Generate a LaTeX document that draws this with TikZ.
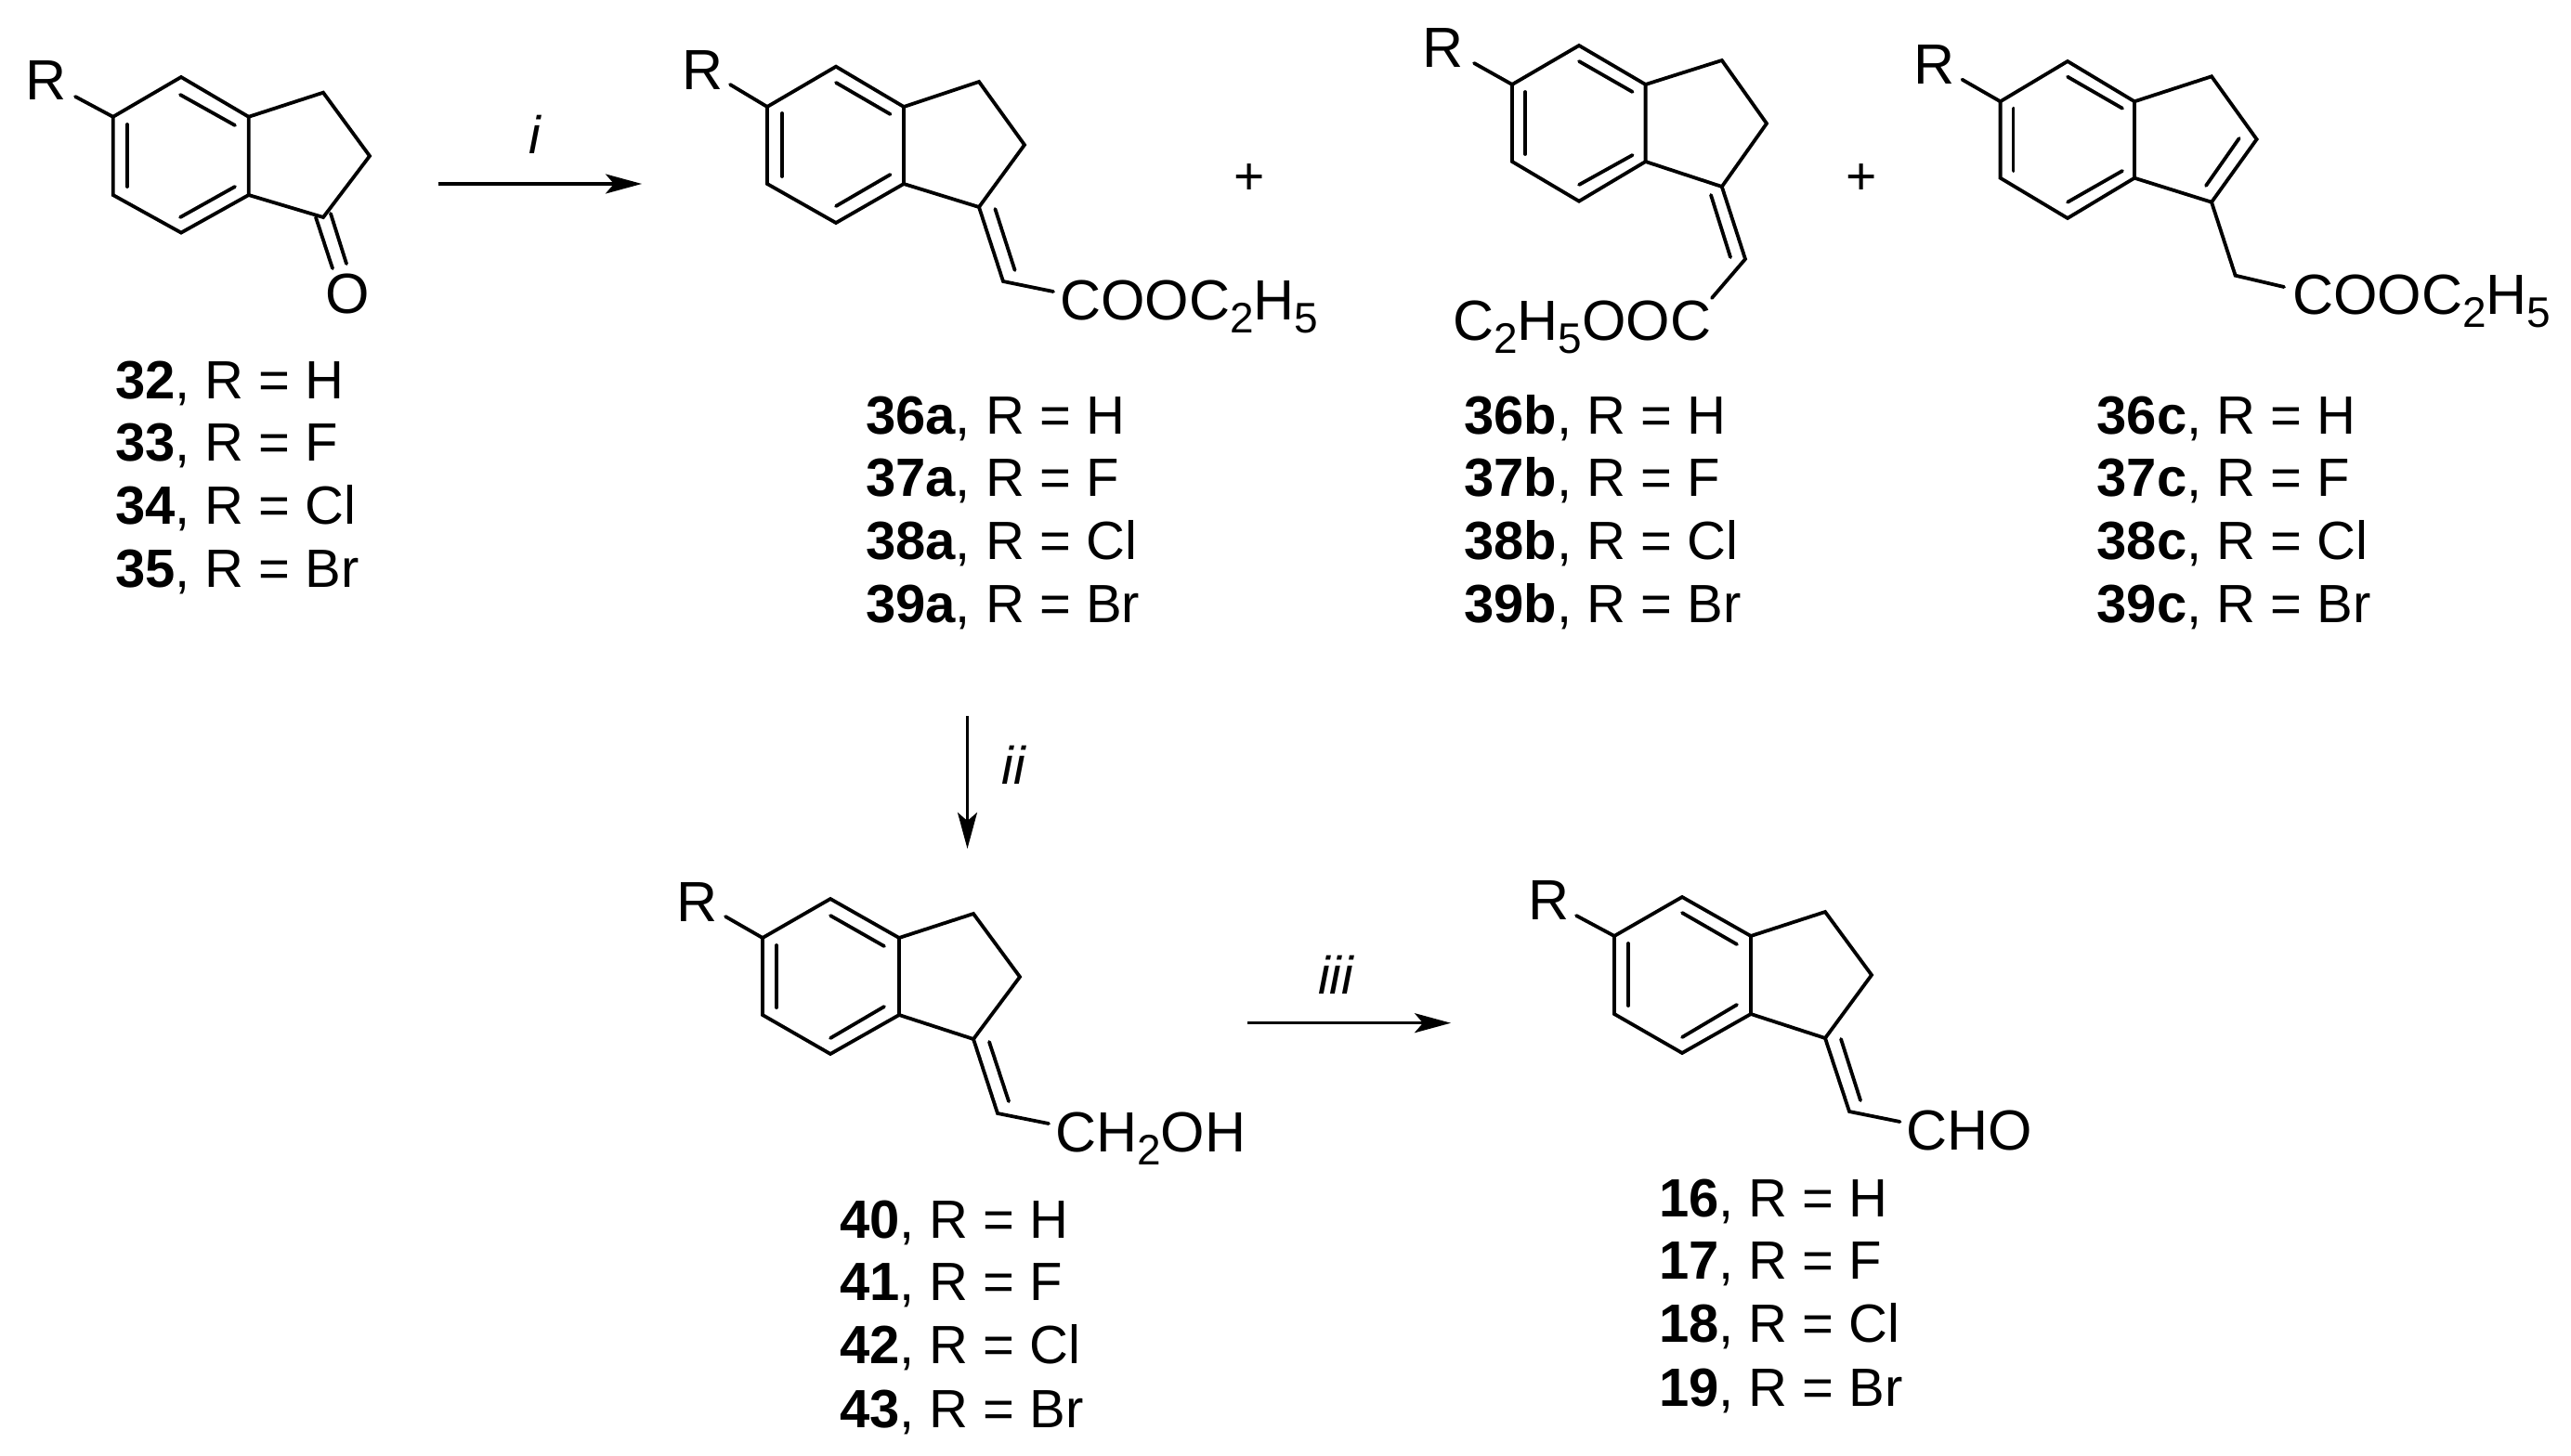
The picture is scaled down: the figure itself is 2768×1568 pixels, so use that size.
\documentclass[tikz,border=0pt]{standalone}
\usepackage{fontspec}
\setmainfont{Liberation Sans}
\usetikzlibrary{arrows.meta}
\newcommand{\subd}[1]{\raisebox{-14pt}{\fontsize{46}{46}\selectfont #1}}
\newcommand{\rowlab}[5]{\node[lab] (#1) at (#2,#3) {\textbf{#4}, R = #5};}
\newcommand{\labset}[7]{%
 \rowlab{#1a}{#2}{#3}{#4}{H}\rowlab{#1b}{#2}{#3+67.4}{#5}{F}%
 \rowlab{#1c}{#2}{#3+135}{#6}{Cl}\rowlab{#1d}{#2}{#3+203.5}{#7}{Br}}
\tikzset{
 bond/.style={line width=3.8pt,line cap=round,line join=miter,black},
 rxn/.style={line width=3.2pt,black,-{Stealth[length=39pt,width=21pt,inset=9pt]}},
 lab/.style={anchor=base west,inner sep=0pt,font=\fontsize{58}{60}\selectfont},
 chem/.style={anchor=base west,inner sep=0pt,font=\fontsize{61}{62}\selectfont},
 plusn/.style={anchor=center,inner sep=0pt,font=\fontsize{57}{60}\selectfont},
 reag/.style={anchor=center,inner sep=0pt,font=\fontsize{57}{60}\selectfont\itshape},
}
\begin{document}
\begin{tikzpicture}[x=1pt,y=-1pt]
\fill[white] (0,0) rectangle (2768,1568);
\useasboundingbox (0,0) rectangle (2768,1568);
% --- 32-35
\coordinate (aa) at (121.7,125.8);\coordinate (ab) at (195,83);\coordinate (ac) at (267.7,125.8);
\coordinate (ad) at (267.7,210);\coordinate (ae) at (195,250.6);\coordinate (af) at (121.7,210);
\coordinate (ag) at (348,99.7);\coordinate (ah) at (398,168);\coordinate (ai) at (348,234);
\coordinate (aR) at (81,104);
\node[chem] (aRt) at (27,108) {R};
\node[chem] (aO) at (350,337) {O};
\draw[bond] (aa)--(ab)--(ac)--(ad)--(ae)--(af)--cycle;
\draw[bond] (ac)--(ag)--(ah)--(ai)--(ad);
\draw[bond] (aa)--(aR);
\coordinate (ax1) at (194,102);\coordinate (ax2) at (253,135);\draw[bond] (ax1)--(ax2);
\coordinate (ax3) at (137,134);\coordinate (ax4) at (137,201);\draw[bond] (ax3)--(ax4);
\coordinate (ax5) at (194,234);\coordinate (ax6) at (253,201);\draw[bond] (ax5)--(ax6);
\coordinate (ao1) at (340,234);\coordinate (ao2) at (358,289);\draw[bond] (ao1)--(ao2);
\coordinate (ao3) at (356,230);\coordinate (ao4) at (373,284);\draw[bond] (ao3)--(ao4);
\labset{la}{124}{429}{32}{33}{34}{35}
% arrow i
\coordinate (r1s) at (471.5,198);\coordinate (r1e) at (691,198);
\draw[rxn] (r1s)--(r1e);
\node[reag] (r1l) at (576,145) {i};
% --- 36a
\coordinate (ba) at (826,115);\coordinate (bb) at (900,71.7);\coordinate (bc) at (973,115);
\coordinate (bd) at (973,198);\coordinate (be) at (900,240);\coordinate (bf) at (826,198);
\coordinate (bg) at (1054,88);\coordinate (bh) at (1103,156);\coordinate (bi) at (1054,223);
\coordinate (bj) at (1080,303);\coordinate (bk) at (1134,314);\coordinate (bR) at (786,91);
\node[chem] (bRt) at (734,97) {R};
\node[chem] (bT) at (1141,344) {COOC\subd{2}H\subd{5}};
\draw[bond] (ba)--(bb)--(bc)--(bd)--(be)--(bf)--cycle;
\draw[bond] (bc)--(bg)--(bh)--(bi)--(bd);
\draw[bond] (bi)--(bj)--(bk);
\draw[bond] (ba)--(bR);
\coordinate (bx1) at (900,89);\coordinate (bx2) at (958.5,123);\draw[bond] (bx1)--(bx2);
\coordinate (bx3) at (842,122);\coordinate (bx4) at (842,190);\draw[bond] (bx3)--(bx4);
\coordinate (bx5) at (900,222);\coordinate (bx6) at (958.5,188);\draw[bond] (bx5)--(bx6);
\coordinate (bx7) at (1071.4,225);\coordinate (bx8) at (1092.6,291);\draw[bond] (bx7)--(bx8);
\labset{lb}{932}{467}{36a}{37a}{38a}{39a}
\node[plusn] (p1) at (1345,193) {+};
% --- 36b
\coordinate (ca) at (1628,91);\coordinate (cb) at (1700,49);\coordinate (cc) at (1771.6,91);
\coordinate (cd) at (1771.6,174);\coordinate (ce) at (1700,216.7);\coordinate (cf) at (1628,174);
\coordinate (cg) at (1853.8,65);\coordinate (ch) at (1902,133);\coordinate (ci) at (1853.8,201);
\coordinate (cj) at (1879,279);\coordinate (ck) at (1843,321);\coordinate (cR) at (1587,68);
\node[chem] (cRt) at (1531,73) {R};
\node[chem] (cT) at (1564,366) {C\subd{2}H\subd{5}OOC};
\draw[bond] (ca)--(cb)--(cc)--(cd)--(ce)--(cf)--cycle;
\draw[bond] (cc)--(cg)--(ch)--(ci)--(cd);
\draw[bond] (ci)--(cj)--(ck);
\draw[bond] (ca)--(cR);
\coordinate (cx1) at (1700,66);\coordinate (cx2) at (1757.6,99);\draw[bond] (cx1)--(cx2);
\coordinate (cx3) at (1642,99);\coordinate (cx4) at (1642,166);\draw[bond] (cx3)--(cx4);
\coordinate (cx5) at (1700,199);\coordinate (cx6) at (1757.6,167);\draw[bond] (cx5)--(cx6);
\coordinate (cx7) at (1842,210);\coordinate (cx8) at (1863,277);\draw[bond] (cx7)--(cx8);
\labset{lc}{1576}{467}{36b}{37b}{38b}{39b}
\node[plusn] (p2) at (2004,193) {+};
% --- 36c
\coordinate (da) at (2153.6,109.3);\coordinate (db) at (2226,66);\coordinate (dc) at (2298,109.3);
\coordinate (dd) at (2298,191.7);\coordinate (de) at (2226,235);\coordinate (df) at (2153.6,191.7);
\coordinate (dg) at (2381,82.3);\coordinate (dh) at (2429.6,150);\coordinate (di) at (2381,217.7);
\coordinate (dj) at (2406.6,296.7);\coordinate (dk) at (2459,309);\coordinate (dR) at (2112.5,85.7);
\node[chem] (dRt) at (2060,90.7) {R};
\node[chem] (dT) at (2468,338) {COOC\subd{2}H\subd{5}};
\draw[bond] (da)--(db)--(dc)--(dd)--(de)--(df)--cycle;
\draw[bond] (dc)--(dg)--(dh)--(di)--(dd);
\draw[bond] (di)--(dj)--(dk);
\draw[bond] (da)--(dR);
\coordinate (dx1) at (2226,82.7);\coordinate (dx2) at (2285,116.7);\draw[bond] (dx1)--(dx2);
\coordinate (dx3) at (2167.5,116.7);\coordinate (dx4) at (2167.5,184);\draw[bond] (dx3)--(dx4);
\coordinate (dx5) at (2226,217.7);\coordinate (dx6) at (2285,184);\draw[bond] (dx5)--(dx6);
\coordinate (dx7) at (2410.7,149);\coordinate (dx8) at (2375,200);\draw[bond] (dx7)--(dx8);
\labset{ld}{2257.5}{467}{36c}{37c}{38c}{39c}
% arrow ii
\coordinate (r2s) at (1041.5,771);\coordinate (r2e) at (1041.5,914);
\draw[rxn] (r2s)--(r2e);
\node[reag] (r2l) at (1091,824) {ii};
% --- 40-43
\coordinate (ea) at (821,1010);\coordinate (eb) at (894,968);\coordinate (ec) at (968,1010);
\coordinate (ed) at (968,1093);\coordinate (ee) at (894,1135);\coordinate (ef) at (821,1093);
\coordinate (eg) at (1048,984);\coordinate (eh) at (1098,1052);\coordinate (ei) at (1048,1119);
\coordinate (ej) at (1074,1199);\coordinate (ek) at (1129,1210);\coordinate (eR) at (781,987);
\node[chem] (eRt) at (728,992) {R};
\node[chem] (eT) at (1136,1240) {CH\subd{2}OH};
\draw[bond] (ea)--(eb)--(ec)--(ed)--(ee)--(ef)--cycle;
\draw[bond] (ec)--(eg)--(eh)--(ei)--(ed);
\draw[bond] (ei)--(ej)--(ek);
\draw[bond] (ea)--(eR);
\coordinate (ex1) at (894,986);\coordinate (ex2) at (952,1019);\draw[bond] (ex1)--(ex2);
\coordinate (ex3) at (836,1018);\coordinate (ex4) at (836,1085);\draw[bond] (ex3)--(ex4);
\coordinate (ex5) at (894,1118);\coordinate (ex6) at (952,1084);\draw[bond] (ex5)--(ex6);
\coordinate (ex7) at (1065,1122);\coordinate (ex8) at (1086,1186);\draw[bond] (ex7)--(ex8);
\labset{le}{904}{1333.5}{40}{41}{42}{43}
% arrow iii
\coordinate (r3s) at (1343,1101.7);\coordinate (r3e) at (1562,1101.7);
\draw[rxn] (r3s)--(r3e);
\node[reag] (r3l) at (1438,1050) {iii};
% --- 16-19
\coordinate (fa) at (1738,1008);\coordinate (fb) at (1811,966);\coordinate (fc) at (1885,1008);
\coordinate (fd) at (1885,1092);\coordinate (fe) at (1811,1134);\coordinate (ff) at (1738,1092);
\coordinate (fg) at (1965,982);\coordinate (fh) at (2015,1050);\coordinate (fi) at (1965,1118);
\coordinate (fj) at (1991,1197);\coordinate (fk) at (2045.5,1208);\coordinate (fR) at (1697,986);
\node[chem] (fRt) at (1645,990) {R};
\node[chem] (fT) at (2052.5,1238) {CHO};
\draw[bond] (fa)--(fb)--(fc)--(fd)--(fe)--(ff)--cycle;
\draw[bond] (fc)--(fg)--(fh)--(fi)--(fd);
\draw[bond] (fi)--(fj)--(fk);
\draw[bond] (fa)--(fR);
\coordinate (fx1) at (1811,983);\coordinate (fx2) at (1870,1017);\draw[bond] (fx1)--(fx2);
\coordinate (fx3) at (1753,1016);\coordinate (fx4) at (1753,1083);\draw[bond] (fx3)--(fx4);
\coordinate (fx5) at (1811,1117);\coordinate (fx6) at (1870,1082);\draw[bond] (fx5)--(fx6);
\coordinate (fx7) at (1982,1119);\coordinate (fx8) at (2003,1185);\draw[bond] (fx7)--(fx8);
\labset{lf}{1786}{1310.5}{16}{17}{18}{19}
\end{tikzpicture}
\end{document}
